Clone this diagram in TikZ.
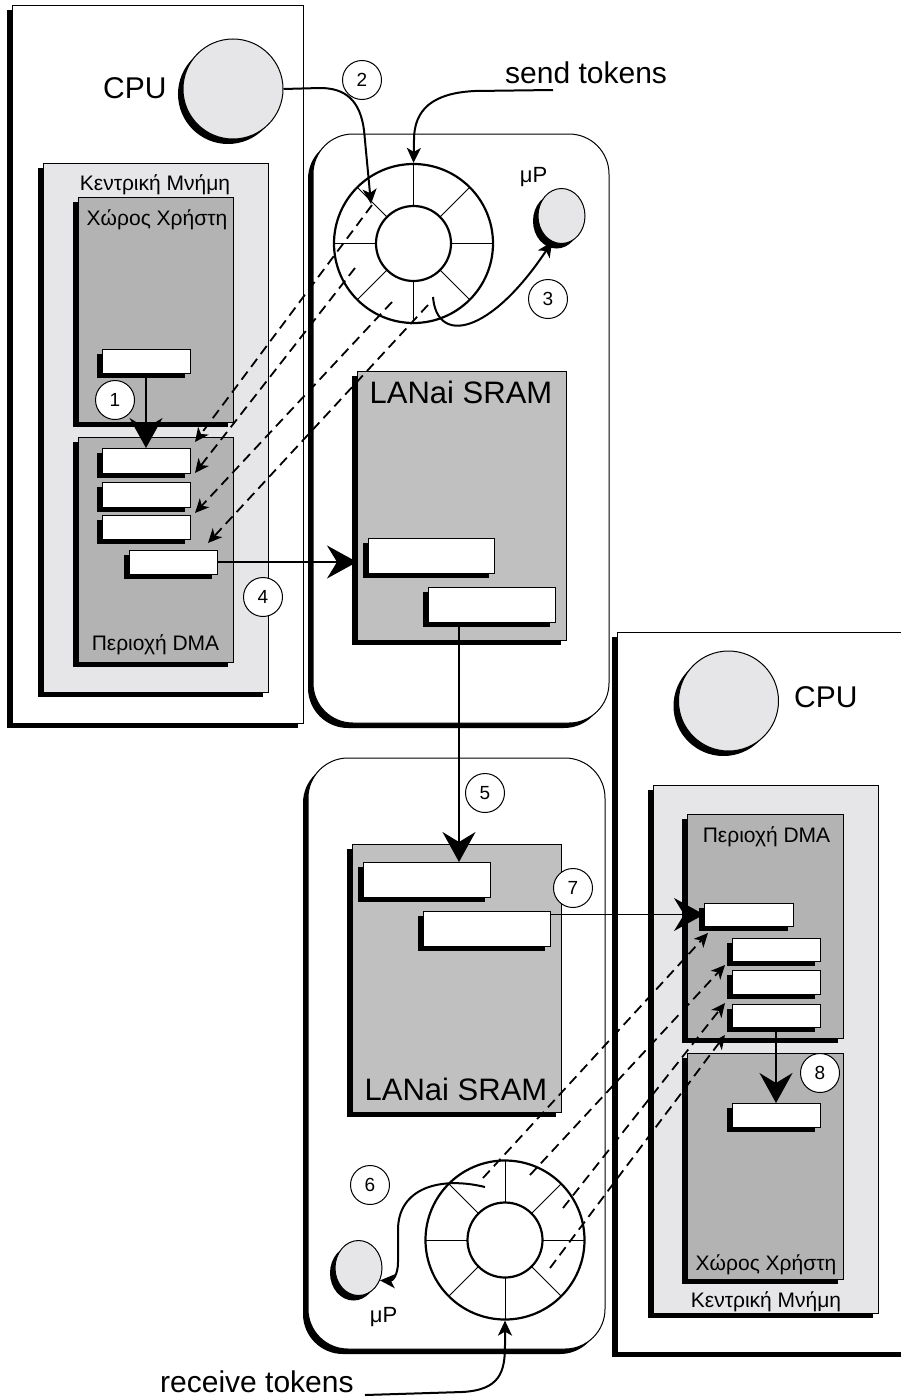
\documentclass[tikz,border=0pt]{standalone}
\usepackage{fontspec}
\setmainfont{Liberation Sans}
\usetikzlibrary{arrows.meta,shadows,shapes.geometric}
\definecolor{lgrey}{RGB}{230,230,232}
\definecolor{dgrey}{RGB}{179,179,179}
\definecolor{sgrey}{RGB}{192,192,192}
\tikzset{
  shad/.style={drop shadow={shadow xshift=-5pt,shadow yshift=-5pt,fill=black,opacity=1}},
  sbox/.style={draw=black,line width=1pt,inner sep=0pt,outer sep=0pt,anchor=north west,shad},
  cpu/.style={circle,draw=black,line width=1pt,fill=lgrey,minimum size=100pt,inner sep=0pt,shad},
  mp/.style={ellipse,draw=black,line width=1pt,fill=lgrey,minimum width=47pt,minimum height=55pt,inner sep=0pt,shad},
  ringo/.style={circle,draw=black,line width=2.2pt,fill=white,minimum size=159pt,inner sep=0pt},
  ringi/.style={circle,draw=black,line width=2.2pt,fill=white,minimum size=75pt,inner sep=0pt},
  spoke/.style={line width=1pt},
  numc/.style={circle,draw=black,fill=white,line width=1pt,minimum size=39pt,inner sep=0pt,font=\fontsize{19}{21}\selectfont},
  bigarrow/.style={-{Stealth[length=30pt,width=33pt,inset=10pt]},line width=1.4pt},
  smallarrow/.style={-{Stealth[length=15pt,width=14pt,inset=4pt]},line width=2pt},
  dasharrow/.style={-{Stealth[length=14pt,width=13pt,inset=4pt]},line width=1.8pt,dash pattern=on 10pt off 6pt},
  big/.style={inner sep=0pt,font=\fontsize{30}{36}\selectfont},
  sram/.style={inner sep=0pt,anchor=base,font=\fontsize{31}{36}\selectfont},
  small/.style={inner sep=0pt,anchor=base,font=\fontsize{21}{25}\selectfont},
  mptext/.style={inner sep=0pt,anchor=base,font=\fontsize{22}{25}\selectfont},
}
\newcommand\rbox[6][]{\node[sbox,#1,minimum width={(#5-#3)*1pt},minimum height={(#6-#4)*1pt}] (#2) at (#3,#4) {};}
\begin{document}
\begin{tikzpicture}[x=1pt,y=-1pt]
\clip (0,0) rectangle (901,1400);
\fill[white] (0,0) rectangle (901,1400);

% hosts and NICs
\rbox[fill=white]{hostL}{12}{5}{303}{723}
\rbox[fill=white,rounded corners=40pt]{nicT}{313}{134}{609}{723}
\rbox[fill=white,rounded corners=40pt]{nicB}{308}{758}{605}{1349}
\rbox[fill=white]{hostR}{617}{632}{940}{1352}

% CPUs
\node[cpu] (cpuL) at (233,89) {};
\node[cpu] (cpuR) at (728.5,701) {};

% left memory
\rbox[fill=lgrey]{memL}{43}{163}{268}{692}
\rbox[fill=dgrey]{userL}{78}{197}{233}{422}
\rbox[fill=dgrey]{dmaL}{78}{437}{233}{662}
\rbox[fill=white]{ubL}{102}{349}{190}{373}
\rbox[fill=white]{dbLa}{102}{448}{190}{473}
\rbox[fill=white]{dbLb}{102}{482}{190}{507}
\rbox[fill=white]{dbLc}{102}{515}{190}{539}
\rbox[fill=white]{dbLd}{129}{550}{217}{574}

% right memory
\rbox[fill=lgrey]{memR}{653}{785}{878}{1313}
\rbox[fill=dgrey]{dmaR}{687}{814}{843}{1038}
\rbox[fill=dgrey]{userR}{687}{1053}{843}{1279}
\rbox[fill=white]{dbRa}{704}{903}{793}{926}
\rbox[fill=white]{dbRb}{732}{938}{820}{961}
\rbox[fill=white]{dbRc}{732}{970}{820}{994}
\rbox[fill=white]{dbRd}{732}{1004}{820}{1027}
\rbox[fill=white]{ubR}{732}{1103}{820}{1127}

% LANai SRAM
\rbox[fill=sgrey]{sramT}{357}{371}{566}{640}
\rbox[fill=white]{sTa}{368}{538}{494}{573}
\rbox[fill=white]{sTb}{428}{587}{555}{622}
\rbox[fill=sgrey]{sramB}{352}{844}{561}{1112}
\rbox[fill=white]{sBa}{363}{862}{490}{897}
\rbox[fill=white]{sBb}{423}{911}{550}{946}

% rings
\node[ringo] (ringT) at (413.5,243.5) {};
\node[ringi] (ringTi) at (413.5,243.5) {};
\foreach \a in {0,45,...,315}
  \draw[spoke] ([shift={(\a:37.5)}]ringT.center) -- ([shift={(\a:79.5)}]ringT.center);
\node[ringo] (ringB) at (505,1240) {};
\node[ringi] (ringBi) at (505,1240) {};
\foreach \a in {0,45,...,315}
  \draw[spoke] ([shift={(\a:37.5)}]ringB.center) -- ([shift={(\a:79)}]ringB.center);

% microprocessors
\node[mp] (mpT) at (561.5,216) {};
\node[mp] (mpB) at (358.5,1268) {};

% coordinates for free ends
\coordinate (t1) at (372,205);  \coordinate (e1) at (195,442);
\coordinate (t2) at (355,268);  \coordinate (e2) at (195,473);
\coordinate (t3) at (392,302);  \coordinate (e3) at (195,513);
\coordinate (t4) at (428,305);  \coordinate (e4) at (208,543);
\coordinate (u1) at (483,1178); \coordinate (f1) at (708,933);
\coordinate (u2) at (530,1175); \coordinate (f2) at (725,965);
\coordinate (u3) at (563,1208); \coordinate (f3) at (725,1003);
\coordinate (u4) at (550,1268); \coordinate (f4) at (725,1035);
\coordinate (a2e) at (371,204);
\coordinate (a3s) at (433,297);
\coordinate (a6s) at (485,1187);
\coordinate (a5s) at (459,622);
\coordinate (sts) at (553,90);
\coordinate (rts) at (365,1395);

% dashed DMA arrows
\foreach \s/\e in {t1/e1,t2/e2,t3/e3,t4/e4,u1/f1,u2/f2,u3/f3,u4/f4}
  \draw[dasharrow] (\s) -- (\e);

% solid arrows
\draw[bigarrow,line width=2.2pt] (ubL.south) -- (dbLa.north);
\draw[bigarrow] (dbLd.east) -- (dbLd.east -| sramT.west);
\draw[bigarrow] (a5s) -- (a5s |- sBa.north);
\draw[bigarrow] (dbRa.west -| sBb.east) -- (dbRa.west);
\draw[bigarrow] (dbRd.south) -- (ubR.north);

% curved arrows
\draw[smallarrow] (cpuL.east) -- (320,88) .. controls (345,88) and (360,100) .. (364,130) -- (a2e);
\draw[smallarrow] (sts) -- (475,91) .. controls (432,93) and (414,110) .. (414,140) -- (ringT.north);
\draw[smallarrow] (a3s) .. controls (437,345) and (490,335) .. (mpT.250);
\draw[smallarrow] (a6s) .. controls (440,1176) and (398,1188) .. (398,1230) -- (398,1262) .. controls (398,1276) and (392,1281) .. (mpB.-30);
\draw[smallarrow] (rts) -- (462,1392) .. controls (500,1390) and (505,1372) .. (505,1345) -- (ringB.south);

% number circles
\node[numc] at (115,400) {1};
\node[numc] at (362,80) {2};
\node[numc] at (548,299) {3};
\node[numc] at (263,597) {4};
\node[numc] at (485,793) {5};
\node[numc] at (370,1185) {6};
\node[numc] at (573,888) {7};
\node[numc] at (820,1073) {8};

% texts
\node[big,anchor=base west] (cpuLt) at (103,98) {CPU};
\node[big,anchor=base west] (cpuRt) at (794,707) {CPU};
\node[big,anchor=base west] (sendt) at (505,83) {send tokens};
\node[big,anchor=base west] (recvt) at (160,1392) {receive tokens};
\node[sram] at (461,403) {LANai SRAM};
\node[sram] at (456,1100) {LANai SRAM};
\node[small] at (155,190) {Κεντρική Μνήμη};
\node[small] at (157,225) {Χώρος Χρήστη};
\node[small] at (155.5,650) {Περιοχή DMA};
\node[small] at (766,1307) {Κεντρική Μνήμη};
\node[small] at (766,1270) {Χώρος Χρήστη};
\node[small] at (766.5,842) {Περιοχή DMA};
\node[mptext] at (533.5,182) {μP};
\node[mptext] at (383.5,1322) {μP};
\end{tikzpicture}
\end{document}
